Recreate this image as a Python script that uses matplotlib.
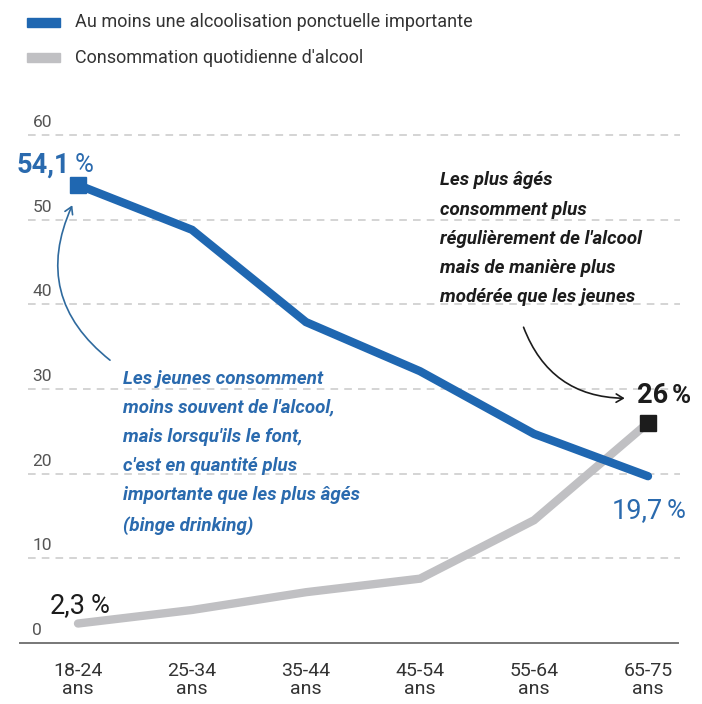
import matplotlib
matplotlib.use("Agg")
import matplotlib.pyplot as plt
from matplotlib.patches import FancyArrowPatch

plt.rcParams['font.family'] = ['Roboto', 'DejaVu Sans']

categories = ["18-24\nans", "25-34\nans", "35-44\nans", "45-54\nans", "55-64\nans", "65-75\nans"]
binge = [54.1, 48.8, 37.9, 32.1, 24.7, 19.7]
daily = [2.3, 3.9, 6.0, 7.6, 14.5, 26.0]
yticks = [0, 10, 20, 30, 40, 50, 60]
legend_labels = ["Au moins une alcoolisation ponctuelle importante", "Consommation quotidienne d'alcool"]

BLUE = "#1f67b1"
BLUE_T = "#2a6aae"
GRAY = "#c0c0c3"
DARK = "#1c1c1c"

W, H = 702, 704
fig = plt.figure(figsize=(W / 100, H / 100), dpi=100)
left_px, right_px, bottom_px, top_px = 20, 680, 643, 118
ax = fig.add_axes([left_px / W, 1 - bottom_px / H, (right_px - left_px) / W, (bottom_px - top_px) / H])
x0_px, dx_px = 78, 114.0
ax.set_xlim((left_px - x0_px) / dx_px, (right_px - x0_px) / dx_px)
ppu = 8.467
ax.set_ylim(0, (bottom_px - top_px) / ppu)
ax.axis("off")

x = list(range(len(categories)))

# gridlines and y labels
for v in yticks[1:]:
    ax.plot([-0.44, 5.28], [v, v], color="#c9c9c9", lw=1.1, ls=(0, (5, 4)), zorder=1, clip_on=False)
for v in yticks:
    ax.text(-0.40, v + 0.6, str(v), fontsize=12.5, color="#555555", ha="left", va="bottom")
ax.plot([-0.51, 5.26], [0, 0], color="#777777", lw=1.4, zorder=2, clip_on=False)

# lines
ax.plot(x, daily, color=GRAY, lw=6, solid_capstyle="round", solid_joinstyle="miter", zorder=3)
ax.plot(x, binge, color=BLUE, lw=6, solid_capstyle="round", solid_joinstyle="miter", zorder=4)
ax.plot([x[0]], [binge[0]], marker="s", ms=12, color=BLUE, zorder=5, clip_on=False)
ax.plot([x[-1]], [daily[-1]], marker="s", ms=12, color=DARK, zorder=5, clip_on=False)

# x labels
for xi, lab in zip(x, categories):
    ax.text(xi, -2.2, lab, fontsize=14, color="#333333", ha="center", va="top", linespacing=1.0)

def val(xpos, ypos, num, color, bold, size=19.5, pbold=False):
    ax.text(xpos, ypos, num, fontsize=size, color=color, ha="right", va="baseline",
            fontweight="bold" if bold else "normal")
    ax.annotate("%", xy=(xpos, ypos), xycoords="data", fontsize=size - 1, color=color,
                ha="left", va="baseline", fontweight="bold" if pbold else "normal",
                xytext=(3, 0), textcoords="offset points")

val(-0.07, 55.6, "54,1", BLUE_T, True)
val(5.175, 28.3, "26", DARK, True, pbold=True)
val(5.13, 14.8, "19,7", BLUE_T, False)
val(0.07, 3.5, "2,3", DARK, False)

# legend
fig.patches.append(plt.Rectangle((27 / W, 1 - 27 / H), 33 / W, 9 / H, transform=fig.transFigure,
                                 color=BLUE, figure=fig))
fig.patches.append(plt.Rectangle((27 / W, 1 - 62 / H), 33 / W, 9 / H, transform=fig.transFigure,
                                 color=GRAY, figure=fig))
fig.text(75 / W, 1 - 22 / H, legend_labels[0], fontsize=13, color="#333333", va="center", ha="left")
fig.text(75 / W, 1 - 58 / H, legend_labels[1], fontsize=13, color="#333333", va="center", ha="left")

# annotations
ax.text(0.395, 32.3,
        "Les jeunes consomment\nmoins souvent de l'alcool,\nmais lorsqu'ils le font,\nc'est en quantité plus\nimportante que les plus âgés\n(binge drinking)",
        fontsize=13.5, color=BLUE_T, style="italic", fontweight="bold", ha="left", va="top", linespacing=1.8)
ax.text(3.175, 55.7,
        "Les plus âgés\nconsomment plus\nrégulièrement de l'alcool\nmais de manière plus\nmodérée que les jeunes",
        fontsize=13.5, color=DARK, style="italic", fontweight="bold", ha="left", va="top", linespacing=1.8)

# arrows
a1 = FancyArrowPatch((0.30, 33.2), (-0.04, 52.0), connectionstyle="arc3,rad=-0.4",
                     arrowstyle="->,head_length=5,head_width=3", color="#2f6a9e", lw=1.2, zorder=6)
ax.add_patch(a1)
a2 = FancyArrowPatch((3.90, 37.6), (4.82, 28.9), connectionstyle="arc3,rad=0.35",
                     arrowstyle="->,head_length=5,head_width=3", color=DARK, lw=1.2, zorder=6)
ax.add_patch(a2)

fig.savefig("out.png", dpi=100)
